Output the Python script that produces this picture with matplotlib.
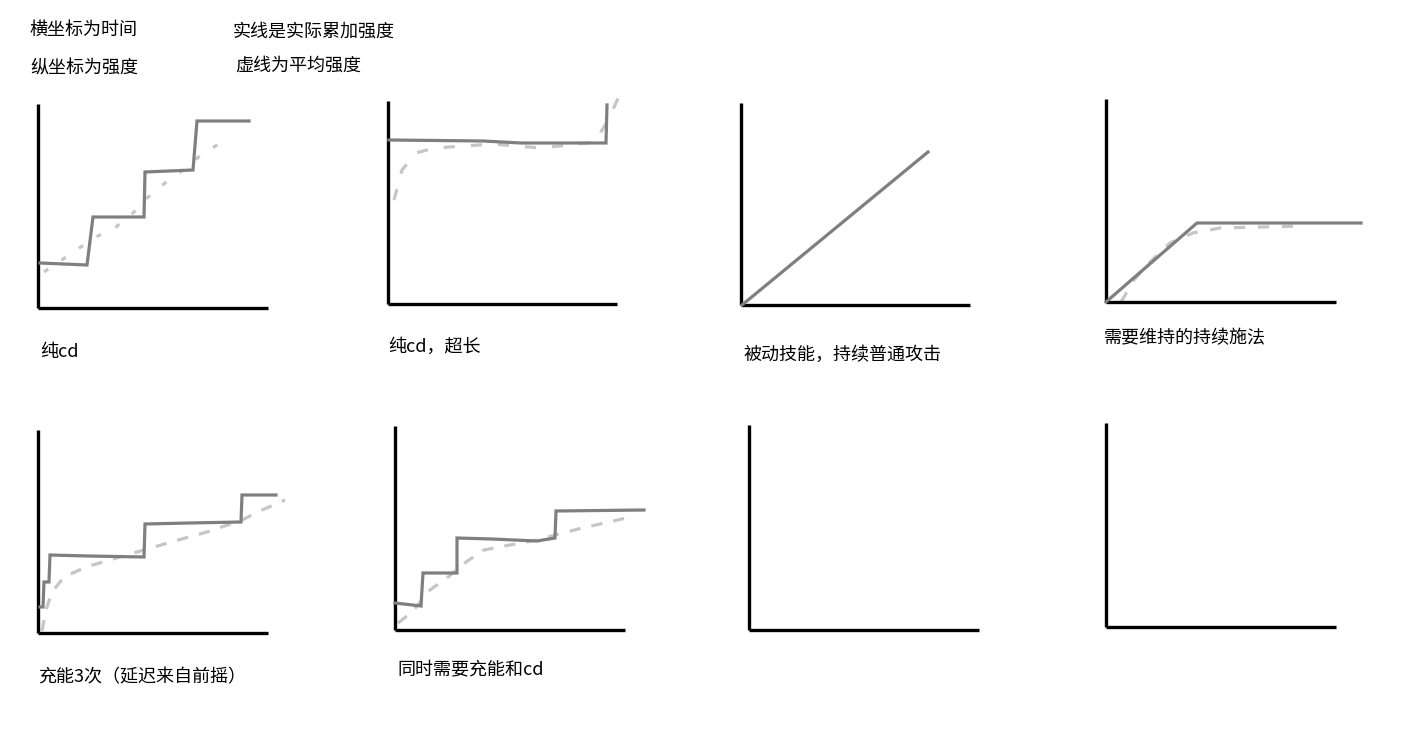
import matplotlib.pyplot as plt

plt.rcParams['font.family'] = ['Noto Sans CJK SC', 'DejaVu Sans']

W, H = 1410, 738

# values: time to the right, strength upward (pixel-like units per panel)
# panel 1: 纯cd
p1_solid_x = [2, 49, 55, 106, 107, 155, 159, 211]
p1_solid_y = [45, 43, 91, 91, 136, 138, 187, 187]
p1_avg_x = [6, 31, 56, 78, 96, 109, 127, 145, 163, 192]
p1_avg_y = [36, 53, 70, 81, 96, 110, 125, 138, 153, 171]

# panel 2: 纯cd，超长
p2_solid_x = [1, 95, 133, 218, 219]
p2_solid_y = [164, 163, 161, 161, 199]
p2_avg_x = [6, 14, 28, 46, 77, 104, 153, 207, 220, 233]
p2_avg_y = [104, 134, 151, 156, 158, 160, 156, 162, 184, 212]

# panel 3: 被动技能，持续普通攻击
p3_solid_x = [1, 187]
p3_solid_y = [0, 153]

# panel 4: 需要维持的持续施法
p4_solid_x = [0, 91, 255]
p4_solid_y = [0, 79, 79]
p4_avg_x = [15, 28, 44, 64, 87, 114, 197]
p4_avg_y = [0, 22, 40, 59, 69, 74, 76]

# panel 5: 充能3次（延迟来自前摇）
p5_solid_x = [2, 5, 6, 11, 12, 50, 106, 107, 151, 203, 204, 238]
p5_solid_y = [26, 26, 51, 51, 78, 77, 76, 109, 110, 111, 138, 138]
p5_avg_x = [4, 8, 14, 26, 48, 75, 106, 133, 169, 204, 224, 247]
p5_avg_y = [2, 23, 41, 56, 66, 74, 83, 91, 101, 113, 123, 133]

# panel 6: 同时需要充能和cd
p6_solid_x = [0, 26, 28, 62, 62, 97, 142, 160, 161, 249]
p6_solid_y = [27, 24, 57, 57, 92, 91, 89, 92, 119, 120]
p6_avg_x = [3, 17, 35, 53, 71, 89, 115, 142, 160, 187, 214, 240]
p6_avg_y = [7, 18, 40, 53, 68, 80, 85, 90, 95, 102, 108, 114]

solid_color = '#7f7f7f'
avg_color = '#c6c6c6'

fig = plt.figure(figsize=(W / 100, H / 100), dpi=100)
fig.patch.set_facecolor('white')


def panel(left, top, right, bottom):
    ax = fig.add_axes([left / W, (H - bottom) / H, (right - left) / W, (bottom - top) / H])
    ax.set_xlim(0, right - left)
    ax.set_ylim(0, bottom - top)
    ax.patch.set_alpha(0)
    for side in ['top', 'right']:
        ax.spines[side].set_visible(False)
    for side in ['left', 'bottom']:
        ax.spines[side].set_linewidth(2.4)
        ax.spines[side].set_color('black')
        ax.spines[side].set_capstyle('butt')
    ax.set_xticks([])
    ax.set_yticks([])
    return ax


def solid(ax, x, y):
    ax.plot(x, y, color=solid_color, lw=2.3, clip_on=False, zorder=3,
            solid_joinstyle='miter')


def avg(ax, x, y, dashes):
    ax.plot(x, y, color=avg_color, lw=2.3, clip_on=False, zorder=2, dashes=dashes)


ax1 = panel(38, 104, 268, 308)
avg(ax1, p1_avg_x, p1_avg_y, (1.6, 5))
solid(ax1, p1_solid_x, p1_solid_y)

ax2 = panel(388, 101, 617, 304)
avg(ax2, p2_avg_x, p2_avg_y, (3.5, 5))
solid(ax2, p2_solid_x, p2_solid_y)

ax3 = panel(741, 103, 970, 305)
solid(ax3, p3_solid_x, p3_solid_y)

ax4 = panel(1106, 99, 1336, 302)
avg(ax4, p4_avg_x, p4_avg_y, (3.5, 4))
solid(ax4, p4_solid_x, p4_solid_y)

ax5 = panel(38, 430, 268, 633)
avg(ax5, p5_avg_x, p5_avg_y, (3.5, 3.5))
solid(ax5, p5_solid_x, p5_solid_y)

ax6 = panel(395, 426, 625, 630)
avg(ax6, p6_avg_x, p6_avg_y, (3.5, 3.5))
solid(ax6, p6_solid_x, p6_solid_y)

ax7 = panel(749, 425, 979, 630)
ax8 = panel(1106, 423, 1336, 627)

notes = [
    (30, 30, '横坐标为时间'),
    (30, 69, '纵坐标为强度'),
    (233, 32, '实线是实际累加强度'),
    (235, 66, '虚线为平均强度'),
    (40, 352, '纯cd'),
    (388, 347, '纯cd，超长'),
    (743, 355, '被动技能，持续普通攻击'),
    (1104, 338, '需要维持的持续施法'),
    (38, 677, '充能3次（延迟来自前摇）'),
    (397, 670, '同时需要充能和cd'),
]
for x, y, s in notes:
    fig.text(x / W, (H - y) / H, s, fontsize=13, ha='left', va='center', color='black')

fig.savefig('out.png', dpi=100)
